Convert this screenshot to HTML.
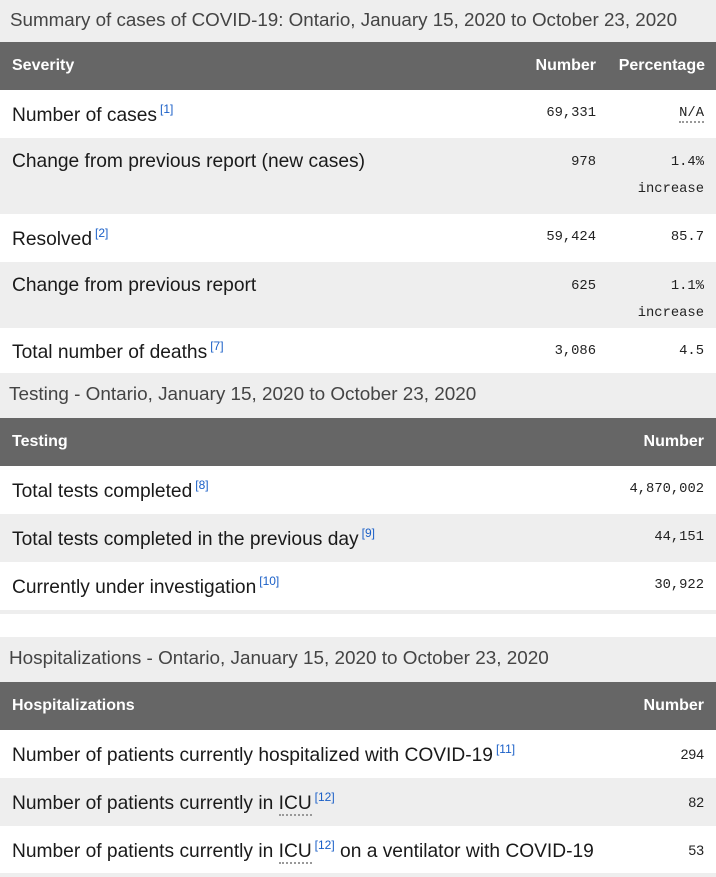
<!DOCTYPE html>
<html><head><meta charset="utf-8"><style>
*{margin:0;padding:0;box-sizing:border-box}
body{width:716px;height:877px;overflow:hidden;background:#fff;font-family:"Liberation Sans",sans-serif;color:#1a1a1a;position:relative}
.b{position:absolute;left:0;width:716px}
.g{background:#eeeeee}
.h{background:#666666}
.t{position:absolute;white-space:nowrap}
.cap{font-size:18.8px;color:#444;left:10px}
.cap2{font-size:18.9px;color:#444;left:9px}
.hd{font-size:16px;font-weight:bold;color:#fff}
.lb{font-size:19.2px;left:12px;color:#1a1a1a}
sup{font-size:12px;color:#1a5fc7;vertical-align:8px;margin-left:3px}
.n{font-family:"Liberation Mono",monospace;font-size:13.8px;color:#222}
.r1{right:120px}
.r2{right:12px}
.ns{font-size:14px;color:#222;right:12px}
.dot{border-bottom:2px dotted #999}
</style></head><body>
<div class="b g" style="top:0;height:42px"></div>
<div class="t cap" style="top:9px">Summary of cases of COVID-19: Ontario, January 15, 2020 to October 23, 2020</div>
<div class="b h" style="top:42px;height:48px"></div>
<div class="t hd" style="left:12px;top:57px">Severity</div>
<div class="t hd" style="right:120px;top:57px">Number</div>
<div class="t hd" style="right:11px;top:57px">Percentage</div>

<div class="t lb" style="top:102px">Number of cases<sup>[1]</sup></div>
<div class="t n r1" style="top:106px">69,331</div>
<div class="t n r2" style="top:106px"><span class="dot">N/A</span></div>

<div class="b g" style="top:138px;height:76px"></div>
<div class="t lb" style="top:151px">Change from previous report (new cases)</div>
<div class="t n r1" style="top:155px">978</div>
<div class="t n r2" style="top:155px">1.4%</div>
<div class="t n r2" style="top:182px">increase</div>

<div class="t lb" style="top:226px">Resolved<sup>[2]</sup></div>
<div class="t n r1" style="top:230px">59,424</div>
<div class="t n r2" style="top:230px">85.7</div>

<div class="b g" style="top:262px;height:66px"></div>
<div class="t lb" style="top:275px">Change from previous report</div>
<div class="t n r1" style="top:279px">625</div>
<div class="t n r2" style="top:279px">1.1%</div>
<div class="t n r2" style="top:306px">increase</div>

<div class="t lb" style="top:339px">Total number of deaths<sup>[7]</sup></div>
<div class="t n r1" style="top:344px">3,086</div>
<div class="t n r2" style="top:344px">4.5</div>

<div class="b g" style="top:373px;height:45px"></div>
<div class="t cap2" style="top:384px">Testing - Ontario, January 15, 2020 to October 23, 2020</div>
<div class="b h" style="top:418px;height:48px"></div>
<div class="t hd" style="left:12px;top:433px">Testing</div>
<div class="t hd" style="right:12px;top:433px">Number</div>

<div class="t lb" style="top:478px">Total tests completed<sup>[8]</sup></div>
<div class="t n r2" style="top:482px">4,870,002</div>
<div class="b g" style="top:514px;height:48px"></div>
<div class="t lb" style="top:526px">Total tests completed in the previous day<sup>[9]</sup></div>
<div class="t n r2" style="top:530px">44,151</div>
<div class="t lb" style="top:574px">Currently under investigation<sup>[10]</sup></div>
<div class="t n r2" style="top:578px">30,922</div>
<div class="b g" style="top:610px;height:4px"></div>

<div class="b g" style="top:637px;height:45px"></div>
<div class="t cap2" style="top:648px">Hospitalizations - Ontario, January 15, 2020 to October 23, 2020</div>
<div class="b h" style="top:682px;height:48px"></div>
<div class="t hd" style="left:12px;top:697px">Hospitalizations</div>
<div class="t hd" style="right:12px;top:697px">Number</div>

<div class="t lb" style="top:742px">Number of patients currently hospitalized with COVID-19<sup>[11]</sup></div>
<div class="t ns" style="top:746px">294</div>
<div class="b g" style="top:778px;height:48px"></div>
<div class="t lb" style="top:790px">Number of patients currently in <span class="dot">ICU</span><sup>[12]</sup></div>
<div class="t ns" style="top:794px">82</div>
<div class="t lb" style="top:838px">Number of patients currently in <span class="dot">ICU</span><sup>[12]</sup> on a ventilator with COVID-19</div>
<div class="t ns" style="top:842px">53</div>
<div class="b g" style="top:873px;height:4px"></div>
</body></html>
